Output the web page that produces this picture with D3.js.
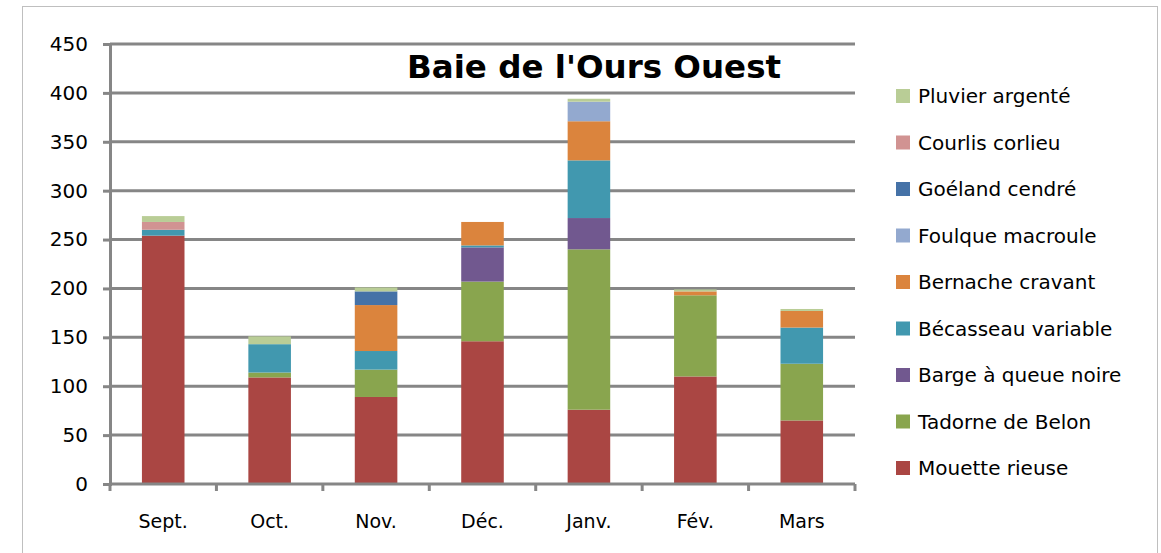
<!DOCTYPE html>
<html>
<head>
<meta charset="utf-8">
<script src="https://cdn.jsdelivr.net/npm/d3@7"></script>
<style>
	body { margin: 0; background: #fff; }
	text { font-family: 'DejaVu Sans', sans-serif; fill: #000; }
</style>
</head>
<body>
<div class="chart-area"></div>
<script>
var months = ['Sept.', 'Oct.', 'Nov.', 'Déc.', 'Janv.', 'Fév.', 'Mars'];
var species = ['Mouette rieuse', 'Tadorne de Belon', 'Barge à queue noire', 'Bécasseau variable',
	'Bernache cravant', 'Foulque macroule', 'Goéland cendré', 'Courlis corlieu', 'Pluvier argenté'];
var colors = ['#aa4643', '#89a54e', '#71588f', '#4198af', '#db843d', '#93a9cf', '#4572a7', '#d19392', '#b9cd96'];
var yTicks = [0, 50, 100, 150, 200, 250, 300, 350, 400, 450];

// one array per species, by month
var mouette   = [254, 109, 89, 146, 76, 110, 65];
var tadorne   = [0, 5, 28, 61, 164, 83, 58];
var barge     = [0, 0, 0, 35, 32, 0, 0];
var becasseau = [6, 29, 19, 2, 59, 0, 37];
var bernache  = [0, 0, 47, 24, 40, 4, 17];
var foulque   = [0, 0, 0, 0, 20, 0, 0];
var goeland   = [0, 0, 14, 0, 0, 0, 0];
var courlis   = [8, 0, 0, 0, 0, 0, 0];
var pluvier   = [6, 8, 4, 0, 3, 2, 2];

var seriesValues = [mouette, tadorne, barge, becasseau, bernache, foulque, goeland, courlis, pluvier];

var width = 1161;
var height = 553;

var svg = d3.select('.chart-area').append('svg')
	.attr('width', width)
	.attr('height', height);

// chart frame
svg.append('rect')
	.attr('x', 22.5)
	.attr('y', 6.5)
	.attr('width', 1135)
	.attr('height', 560)
	.attr('fill', 'none')
	.attr('stroke', '#bfbfbf')
	.attr('stroke-width', 1);

var x = d3.scaleBand()
	.domain(months)
	.range([110, 855])
	.paddingInner(0.6)
	.paddingOuter(0.3);

var y = d3.scaleLinear()
	.domain([0, 450])
	.range([484, 44]);

// table for the stack
var table = months.map(function(m, i) {
	var row = { month: m };
	species.forEach(function(s, k) { row[s] = seriesValues[k][i]; });
	return row;
});
var stacked = d3.stack().keys(species)(table);

// gridlines
svg.append('g')
	.selectAll('line')
	.data(yTicks.slice(1))
	.enter().append('line')
	.attr('x1', 110)
	.attr('x2', 855)
	.attr('y1', function(d) { return y(d); })
	.attr('y2', function(d) { return y(d); })
	.attr('stroke', '#868686')
	.attr('stroke-width', 3);

// bars
svg.append('g')
	.selectAll('g')
	.data(stacked)
	.enter().append('g')
	.attr('fill', function(d, i) { return colors[i]; })
	.selectAll('rect')
	.data(function(d) { return d; })
	.enter().append('rect')
	.attr('x', function(d) { return x(d.data.month); })
	.attr('width', x.bandwidth())
	.attr('y', function(d) { return y(d[1]); })
	.attr('height', function(d) { return y(d[0]) - y(d[1]); });

// y axis
var yAxis = svg.append('g')
	.attr('transform', 'translate(110,0)')
	.call(d3.axisLeft(y).tickValues(yTicks).tickSize(7).tickPadding(15));
yAxis.select('.domain').attr('stroke', '#868686').attr('stroke-width', 3);
yAxis.selectAll('.tick line').attr('stroke', '#868686').attr('stroke-width', 3);
yAxis.selectAll('.tick text')
	.attr('font-size', 20)
	.attr('font-family', "'DejaVu Sans', sans-serif")
	.attr('fill', '#000');

// x axis with ticks between categories
var xEdges = months.map(function(m) { return x(m) - x.step() * x.paddingInner() / 2; });
xEdges.push(855);
var xAxis = svg.append('g');
xAxis.append('line')
	.attr('x1', 110).attr('x2', 855)
	.attr('y1', 484).attr('y2', 484)
	.attr('stroke', '#868686').attr('stroke-width', 3);
xAxis.selectAll('line.tick')
	.data([110].concat(xEdges.slice(1)))
	.enter().append('line')
	.attr('class', 'tick')
	.attr('x1', function(d) { return d; })
	.attr('x2', function(d) { return d; })
	.attr('y1', 484).attr('y2', 491)
	.attr('stroke', '#868686').attr('stroke-width', 3);
xAxis.selectAll('text')
	.data(months)
	.enter().append('text')
	.attr('x', function(d) { return x(d) + x.bandwidth() / 2; })
	.attr('y', 528)
	.attr('text-anchor', 'middle')
	.attr('font-size', 19)
	.text(function(d) { return d; });

// title
svg.append('text')
	.attr('x', 594)
	.attr('y', 78)
	.attr('text-anchor', 'middle')
	.attr('font-size', 32.5)
	.attr('font-weight', 'bold')
	.text("Baie de l'Ours Ouest");

// legend, top entry is last series
var legend = svg.append('g');
var legendRows = species.slice().reverse();
legendRows.forEach(function(s, i) {
	var k = species.indexOf(s);
	var cy = 96 + i * 46.5;
	legend.append('rect')
		.attr('x', 896)
		.attr('y', cy - 7)
		.attr('width', 14)
		.attr('height', 14)
		.attr('fill', colors[k]);
	legend.append('text')
		.attr('x', 918)
		.attr('y', cy + 7)
		.attr('font-size', 20)
		.text(s);
});
</script>
</body>
</html>
